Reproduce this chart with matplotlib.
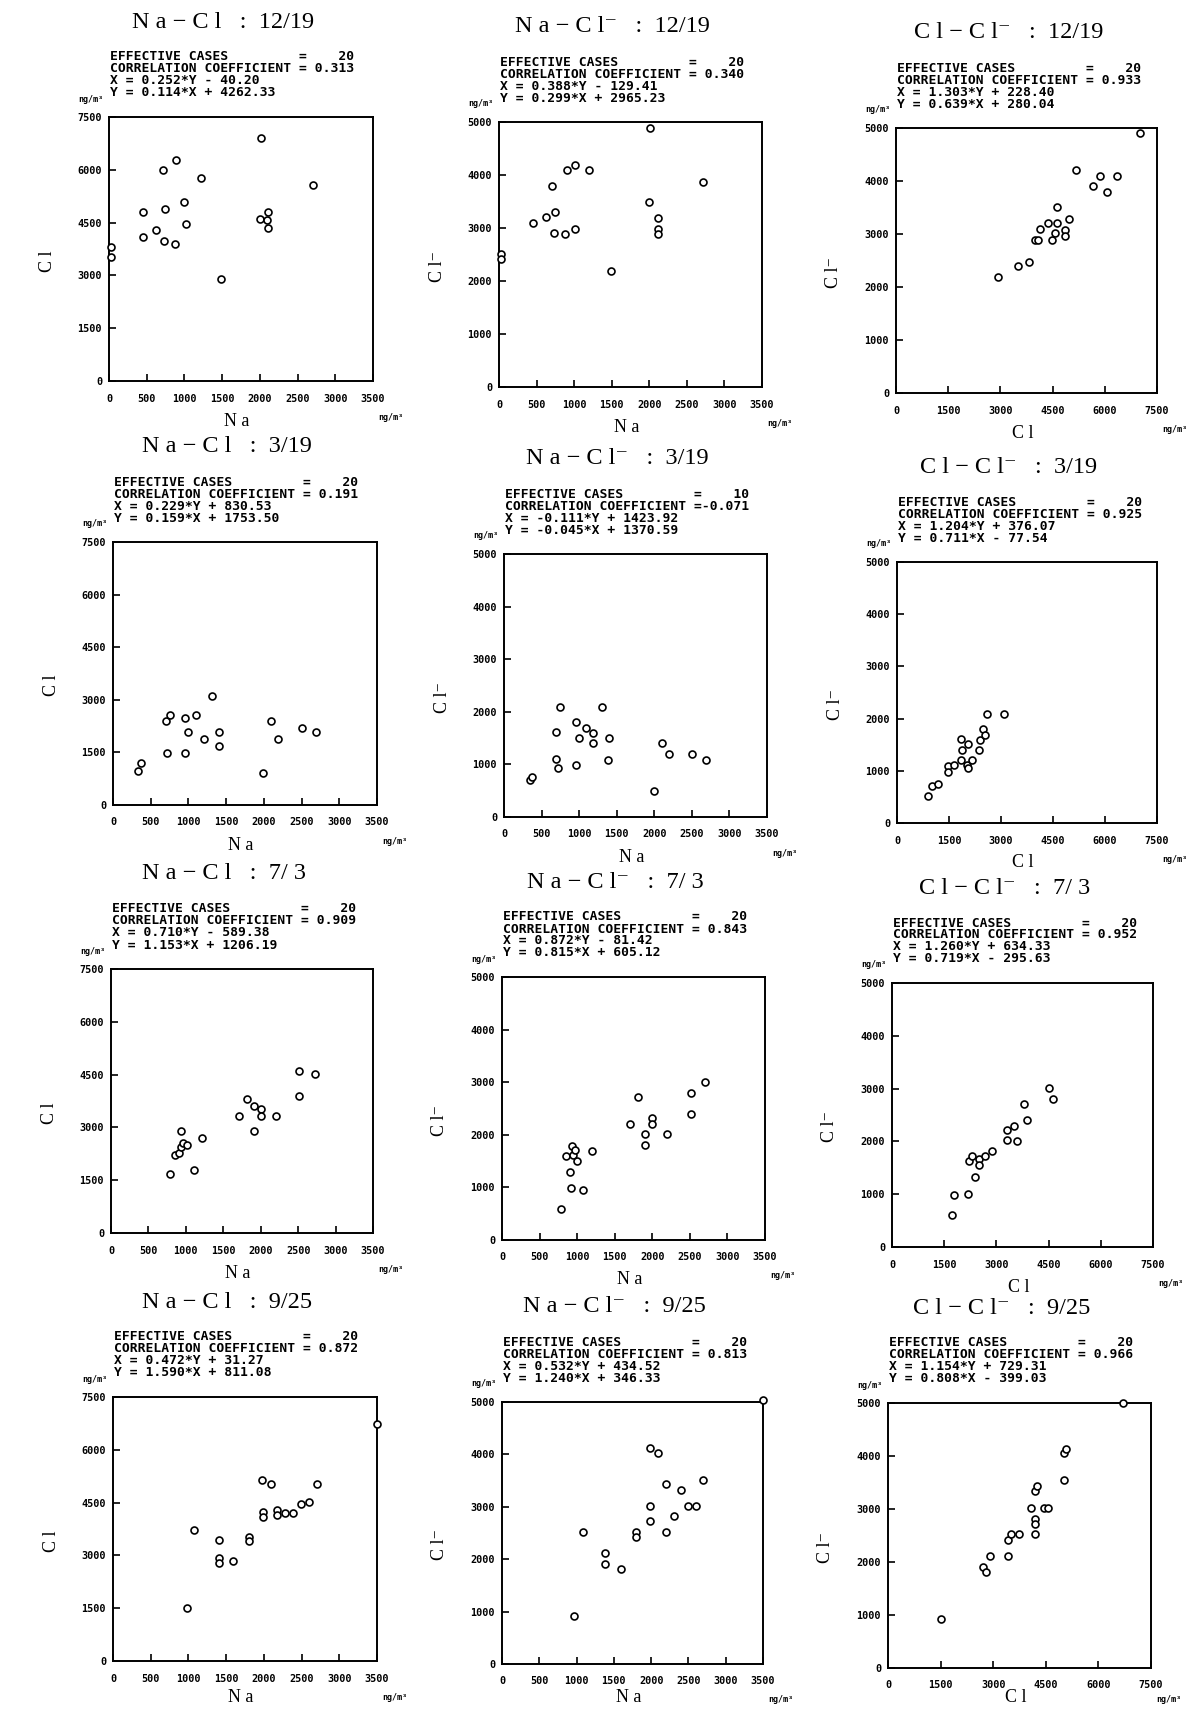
import matplotlib
matplotlib.use('Agg')
import matplotlib.pyplot as plt

W, H = 1199, 1712

# ---- data (ng/m3) ----
# Na - Cl : 12/19
nacl_1219_na = [20, 30, 450, 450, 620, 720, 740, 730, 890, 870, 1000, 1020, 1220, 1490, 2010, 2000, 2110, 2100, 2110, 2700]
nacl_1219_cl = [3800, 3530, 4800, 4100, 4280, 6000, 4900, 3980, 6290, 3880, 5090, 4470, 5780, 2890, 6890, 4590, 4790, 4570, 4360, 5560]
# Na - Cl- : 12/19
nacli_1219_na = [30, 30, 450, 620, 710, 740, 730, 880, 1010, 900, 1010, 1200, 1490, 2010, 2000, 2110, 2110, 2110, 2710]
nacli_1219_cli = [2500, 2410, 3100, 3200, 3790, 3300, 2900, 2890, 2990, 4090, 4180, 4090, 2180, 4880, 3490, 3180, 2980, 2880, 3870]
# Cl - Cl- : 12/19
clcli_1219_cl = [2920, 3520, 3810, 3990, 4080, 4150, 4370, 4630, 4640, 4470, 4570, 4860, 4860, 4970, 5170, 5650, 5850, 6050, 6360, 7010]
clcli_1219_cli = [2190, 2390, 2480, 2890, 2890, 3100, 3200, 3500, 3200, 2890, 3010, 3070, 2970, 3290, 4200, 3900, 4100, 3800, 4100, 4900]

# Na - Cl : 3/19
nacl_0319_na = [330, 370, 700, 750, 710, 960, 1000, 950, 1100, 1200, 1310, 1400, 1400, 1990, 2090, 2190, 2500, 2690]
nacl_0319_cl = [980, 1190, 2390, 2580, 1480, 2480, 2080, 1480, 2580, 1890, 3100, 2090, 1690, 910, 2390, 1890, 2190, 2080]
# Na - Cl- : 3/19
nacli_0319_na = [340, 370, 690, 690, 720, 750, 960, 1000, 960, 1090, 1190, 1190, 1300, 1400, 1390, 2000, 2100, 2190, 2500, 2690]
nacli_0319_cli = [700, 760, 1610, 1100, 940, 2100, 1800, 1510, 990, 1700, 1600, 1400, 2100, 1510, 1090, 490, 1400, 1190, 1190, 1090]
# Cl - Cl- : 3/19
clcli_0319_cl = [890, 1010, 1180, 1460, 1460, 1640, 1860, 1880, 1860, 2060, 2030, 2170, 2370, 2380, 2490, 2540, 2590, 3090, 2060]
clcli_0319_cli = [510, 700, 750, 1100, 980, 1120, 1610, 1400, 1200, 1520, 1120, 1200, 1400, 1590, 1800, 1690, 2080, 2080, 1060]

# Na - Cl : 7/3
nacl_0703_na = [790, 850, 930, 910, 940, 960, 1010, 1110, 1220, 1710, 1820, 1910, 1910, 2010, 2010, 2210, 2510, 2510, 2720]
nacl_0703_cl = [1690, 2210, 2900, 2260, 2430, 2560, 2500, 1790, 2700, 3320, 3810, 3620, 2900, 3520, 3320, 3320, 4610, 3890, 4510]
# Na - Cl- : 7/3
nacli_0703_na = [790, 850, 900, 920, 930, 940, 970, 1000, 1080, 1200, 1700, 1810, 1900, 1900, 2000, 2000, 2200, 2510, 2510, 2700]
nacli_0703_cli = [580, 1600, 1300, 990, 1790, 1610, 1710, 1500, 960, 1700, 2200, 2710, 2010, 1800, 2310, 2210, 2010, 2800, 2400, 3010]
# Cl - Cl- : 7/3
clcli_0703_cl = [1710, 1780, 2170, 2380, 2200, 2290, 2490, 2490, 2670, 2880, 3300, 3300, 3500, 3590, 3800, 3890, 4510, 4620]
clcli_0703_cli = [610, 990, 1010, 1330, 1630, 1720, 1660, 1550, 1720, 1820, 2020, 2220, 2300, 2010, 2700, 2410, 3010, 2800]

# Na - Cl : 9/25
nacl_0925_na = [3500, 980, 1080, 1410, 1410, 1410, 1590, 1800, 1800, 1990, 1990, 1980, 2090, 2180, 2180, 2280, 2390, 2490, 2600, 2700]
nacl_0925_cl = [6730, 1510, 3720, 3440, 2930, 2770, 2840, 3530, 3410, 4240, 4100, 5140, 5020, 4300, 4160, 4210, 4210, 4460, 4520, 5020]
# Na - Cl- : 9/25
nacli_0925_na = [3500, 970, 1090, 1380, 1380, 1590, 1800, 1800, 1990, 2090, 1990, 1990, 2200, 2200, 2300, 2400, 2490, 2600, 2690]
nacli_0925_cli = [5040, 920, 2510, 2110, 1910, 1820, 2520, 2430, 4120, 4030, 3020, 2730, 3430, 2520, 2820, 3330, 3020, 3020, 3520]
# Cl - Cl- : 9/25
clcli_0925_cl = [6700, 1510, 2720, 2790, 2910, 3410, 3410, 3510, 3740, 4090, 4200, 4250, 4200, 4200, 4200, 4460, 4560, 5020, 5020, 5090]
clcli_0925_cli = [5000, 920, 1910, 1820, 2120, 2120, 2420, 2520, 2530, 3010, 3340, 3430, 2820, 2710, 2530, 3010, 3010, 3540, 4050, 4140]

# regression summaries printed above each plot
stats_text = [
    ("20", "0.313", "X = 0.252*Y - 40.20", "Y = 0.114*X + 4262.33"),
    ("20", "0.340", "X = 0.388*Y - 129.41", "Y = 0.299*X + 2965.23"),
    ("20", "0.933", "X = 1.303*Y + 228.40", "Y = 0.639*X + 280.04"),
    ("20", "0.191", "X = 0.229*Y + 830.53", "Y = 0.159*X + 1753.50"),
    ("10", "-0.071", "X = -0.111*Y + 1423.92", "Y = -0.045*X + 1370.59"),
    ("20", "0.925", "X = 1.204*Y + 376.07", "Y = 0.711*X - 77.54"),
    ("20", "0.909", "X = 0.710*Y - 589.38", "Y = 1.153*X + 1206.19"),
    ("20", "0.843", "X = 0.872*Y - 81.42", "Y = 0.815*X + 605.12"),
    ("20", "0.952", "X = 1.260*Y + 634.33", "Y = 0.719*X - 295.63"),
    ("20", "0.872", "X = 0.472*Y + 31.27", "Y = 1.590*X + 811.08"),
    ("20", "0.813", "X = 0.532*Y + 434.52", "Y = 1.240*X + 346.33"),
    ("20", "0.966", "X = 1.154*Y + 729.31", "Y = 0.808*X - 399.03"),
]

dates = ["12/19", "3/19", "7/ 3", "9/25"]
pairs = [("Na", "Cl"), ("Na", "Cl⁻"), ("Cl", "Cl⁻")]

data = [
    (nacl_1219_na, nacl_1219_cl), (nacli_1219_na, nacli_1219_cli), (clcli_1219_cl, clcli_1219_cli),
    (nacl_0319_na, nacl_0319_cl), (nacli_0319_na, nacli_0319_cli), (clcli_0319_cl, clcli_0319_cli),
    (nacl_0703_na, nacl_0703_cl), (nacli_0703_na, nacli_0703_cli), (clcli_0703_cl, clcli_0703_cli),
    (nacl_0925_na, nacl_0925_cl), (nacli_0925_na, nacli_0925_cli), (clcli_0925_cl, clcli_0925_cli),
]

# axes boxes in pixels: left, top, right, bottom
boxes = [
    (109, 117, 373, 381), (499, 122, 762, 387), (896, 128, 1157, 393),
    (113, 542, 377, 805), (504, 554, 767, 817), (897, 562, 1157, 823),
    (111, 969, 373, 1233), (502, 977, 765, 1240), (892, 983, 1153, 1247),
    (113, 1397, 377, 1661), (502, 1402, 763, 1664), (888, 1403, 1151, 1668),
]

serif = ['Liberation Serif', 'DejaVu Serif']
mono = ['DejaVu Sans Mono']

fig = plt.figure(figsize=(W / 100, H / 100), dpi=100)
fig.patch.set_facecolor('white')


def fx(x):
    return x / W


def fy(y):
    return 1 - y / H


def spaced(s):
    # wide letter spacing like the typeset original, keep superscript minus attached
    base = s.replace("⁻", "")
    return " ".join(base) + ("⁻" if "⁻" in s else "")


for i in range(12):
    row, col = divmod(i, 3)
    l, t, r, b = boxes[i]
    xname, yname = pairs[col]
    xs, ys = data[i]

    ax = fig.add_axes([fx(l), fy(b), (r - l) / W, (b - t) / H])
    ax.plot(xs, ys, linestyle='none', marker='o', ms=5, mfc='white', mec='black',
            mew=1.2, clip_on=False, zorder=3)

    if xname == "Na":
        ax.set_xlim(0, 3500)
        ax.set_xticks(range(0, 3501, 500))
    else:
        ax.set_xlim(0, 7500)
        ax.set_xticks(range(0, 7501, 1500))
    if yname == "Cl":
        ax.set_ylim(0, 7500)
        ax.set_yticks(range(0, 7501, 1500))
    else:
        ax.set_ylim(0, 5000)
        ax.set_yticks(range(0, 5001, 1000))

    ax.tick_params(direction='in', length=5, width=1.2, top=False, right=False,
                   labelsize=7.3)
    ax.tick_params(axis='x', pad=9)
    ax.tick_params(axis='y', pad=5)
    for lab in ax.get_xticklabels() + ax.get_yticklabels():
        lab.set_family(mono)
        lab.set_fontweight('bold')
    for sp in ax.spines.values():
        sp.set_linewidth(1.4)

    # title
    title = spaced(xname) + " − " + spaced(yname) + "   :  " + dates[row]
    fig.text(fx((l + r) / 2 - 18), fy(t - 95), title, ha='center', va='center',
             fontsize=17.5, family=serif)

    # stats block
    n, rr, lx, ly = stats_text[i]
    line1 = "EFFECTIVE CASES" + " " * 9 + "=" + n.rjust(6)
    line2 = "CORRELATION COEFFICIENT =" + rr.rjust(6)
    for k, s in enumerate([line1, line2, lx, ly]):
        fig.text(fx(l + 1), fy(t - 60 + 12 * k), s, ha='left', va='center',
                 fontsize=9.4, family=mono, fontweight='bold')

    # units and axis labels
    fig.text(fx(l - 6), fy(t - 18), "ng/m³", ha='right', va='center', fontsize=6,
             family=mono, fontweight='bold')
    fig.text(fx(r + 18), fy(min(b + 36, 1700)), "ng/m³", ha='center', va='center',
             fontsize=6, family=mono, fontweight='bold')
    fig.text(fx((l + r) / 2 - 4), fy(min(b + 40, 1698)), spaced(xname), ha='center',
             va='center', fontsize=13, family=serif)
    fig.text(fx(l - 62), fy((t + b) / 2 + 12), spaced(yname), ha='center', va='center',
             fontsize=13, family=serif, rotation=90)

fig.savefig('out.png', dpi=100, facecolor='white')
